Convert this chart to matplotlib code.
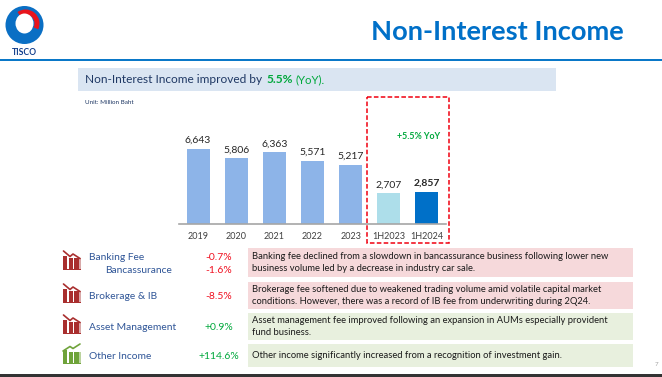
import numpy as np
import matplotlib

matplotlib.use('Agg')
import matplotlib.pyplot as plt
from matplotlib.patches import Rectangle, Circle, Ellipse, Wedge

plt.rcParams['font.family'] = ['Lato', 'DejaVu Sans']

W, H = 662, 377

PERIODS = ['2019', '2020', '2021', '2022', '2023', '1H2023', '1H2024']
INCOME = [6643, 5806, 6363, 5571, 5217, 2707, 2857]
BAR_COLORS = ['#8DB4E8'] * 5 + ['#ADDEEA', '#0070C8']

ROW_NAMES = ['Banking Fee', 'Brokerage & IB', 'Asset Management', 'Other Income']
ROW_CHANGES = ['-0.7%', '-8.5%', '+0.9%', '+114.6%']
ROW_NOTES = [
    'Banking fee declined from a slowdown in bancassurance business following lower new\n'
    'business volume led by a decrease in industry car sale.',
    'Brokerage fee softened due to weakened trading volume amid volatile capital market\n'
    'conditions. However, there was a record of IB fee from underwriting during 2Q24.',
    'Asset management fee improved following an expansion in AUMs especially provident\n'
    'fund business.',
    'Other income significantly increased from a recognition of investment gain.',
]
SUB_NAME = 'Bancassurance'
SUB_CHANGE = '-1.6%'

NAVY = '#2F5597'
RED = '#F01020'
GREEN = '#00A83C'

fig = plt.figure(figsize=(W / 100, H / 100), dpi=100, facecolor='white')

# page overlay in pixel coordinates
page = fig.add_axes([0, 0, 1, 1])
page.set_xlim(0, W)
page.set_ylim(H, 0)
page.axis('off')


def box(x0, y0, x1, y1, color):
    page.add_patch(Rectangle((x0, y0), x1 - x0, y1 - y0, facecolor=color, edgecolor='none'))


def draw_icon(x, y, color, going_up=False):
    # small bar-and-arrow icon, top-left at x, y
    for dx, top in zip([0, 5.6, 11.2], [4.5, 7, 6.5]):
        box(x + dx, y + top, x + dx + 4.4, y + 18, color)
    box(x + 16, y + 7, x + 18, y + 18, '#D9A9A9' if not going_up else '#BBD39F')
    box(x, y + 17.5, x + 18, y + 18.5, color)
    if going_up:
        xs, ys = [x, x + 7, x + 10, x + 17], [y + 6, y + 1.5, y + 3.5, y - 1]
    else:
        xs, ys = [x + 0.5, x + 7, x + 10, x + 17], [y, y + 5.5, y + 3, y + 7.5]
    page.plot(xs, ys, color=color, lw=1.2, solid_capstyle='round')


# header
box(0, 59, W, 61, '#0A78C8')
page.text(497.5, 32.5, 'Non-Interest Income', fontsize=19.6, fontweight='bold', color='#0070C8',
          ha='center', va='center')

# logo
page.add_patch(Circle((24.5, 25), 19, facecolor='#0A6FC4', edgecolor='none'))
page.add_patch(Wedge((25.5, 23.5), 14, -125, 25, width=5, facecolor='#E8141C', edgecolor='none'))
page.add_patch(Ellipse((24.5, 23.5), 18, 20, facecolor='white', edgecolor='none'))
page.text(24, 52.5, 'TISCO', fontsize=6.2, fontweight='bold', color='#123E8C', ha='center', va='center')

# headline banner
box(78, 68, 556, 91, '#DAE5F2')
page.text(85, 79.5, 'Non-Interest Income improved by', fontsize=8.6, color='#1F3864', va='center')
page.text(266, 79.5, '5.5%', fontsize=8.6, fontweight='bold', color=GREEN, va='center')
page.text(295, 79.5, '(YoY).', fontsize=8.2, color=GREEN, va='center')
page.text(85, 102, 'Unit: Million Baht', fontsize=4.5, color='#1F3864', va='center')

# bar chart, baseline at y=224 on the page
ax = fig.add_axes([179 / W, 1 - 224 / H, 267 / W, 124 / H])
ax.patch.set_alpha(0)
x = np.arange(len(PERIODS))
ax.bar(x, INCOME, width=0.6, color=BAR_COLORS, linewidth=0)
ax.set_xlim(-0.5, len(PERIODS) - 0.5)
ax.set_ylim(0, 10983)
ax.set_yticks([])
ax.set_xticks(x)
ax.set_xticklabels(PERIODS, fontsize=6.5, color='#404040')
ax.tick_params(axis='x', length=0, pad=6)
for side in ['top', 'left', 'right']:
    ax.spines[side].set_visible(False)
ax.spines['bottom'].set_color('#A6A6A6')
ax.spines['bottom'].set_linewidth(1.2)
for i, v in enumerate(INCOME):
    ax.text(i, v + 350, f'{v:,}', ha='center', va='bottom', fontsize=7.5, color='#262626',
            fontweight='bold' if i == len(INCOME) - 1 else 'normal')

# 1H comparison frame
page.add_patch(Rectangle((366.5, 96.5), 82, 146.5, facecolor='none', edgecolor='#F00010',
                         lw=1.1, linestyle=(0, (3, 1.5))))
page.text(418.5, 136.5, '+5.5% YoY', fontsize=6.4, fontweight='bold', color=GREEN, ha='center', va='center')

# commentary rows
row_tops = [248, 282, 313, 344]
row_bottoms = [277, 309, 340, 367]
row_fill = ['#F6D9DB', '#F6D9DB', '#E8F0DE', '#E8F0DE']
name_y = [257.5, 296.5, 327, 356.5]
change_y = [257.5, 296.5, 327, 356.5]
icon_y = [251, 284, 315, 345]
icon_col = ['#A92F2F', '#A92F2F', '#A92F2F', '#6FA33A']

for i in range(len(ROW_NAMES)):
    box(248, row_tops[i], 633, row_bottoms[i], row_fill[i])
    page.text(252, (row_tops[i] + row_bottoms[i]) / 2, ROW_NOTES[i], fontsize=6.75, color='#1A1A1A',
              va='center', linespacing=1.5)
    page.text(89, name_y[i], ROW_NAMES[i], fontsize=7.4, color=NAVY, va='center')
    page.text(219, change_y[i], ROW_CHANGES[i], fontsize=7.5, color=RED if i < 2 else GREEN,
              ha='center', va='center')
    draw_icon(63, icon_y[i], icon_col[i], going_up=i == 3)

page.text(105, 270.5, SUB_NAME, fontsize=7.4, color=NAVY, va='center')
page.text(219, 270.5, SUB_CHANGE, fontsize=7.5, color=RED, ha='center', va='center')

# footer
page.text(656, 365, '7', fontsize=4.5, color='#A6A6A6', ha='center', va='center')
box(0, 374, W, H, '#333333')

fig.savefig('out.png', dpi=100)
